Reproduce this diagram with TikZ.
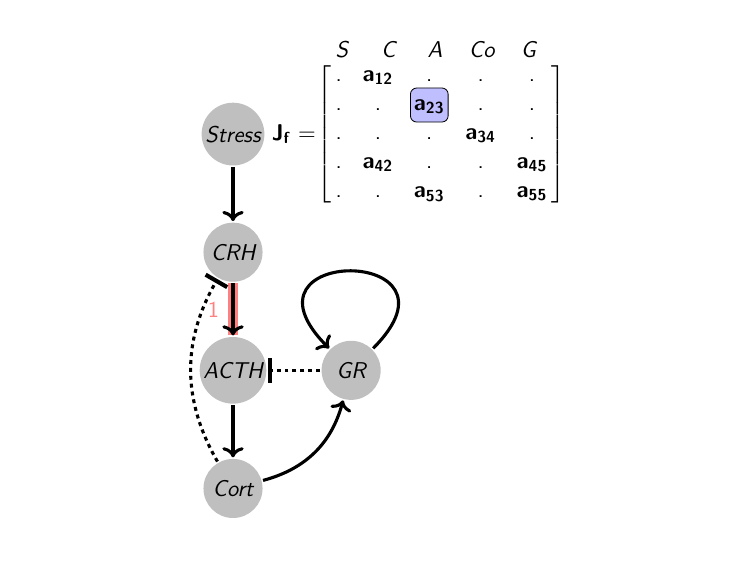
\documentclass[tikz,border=0pt]{standalone}
\usepackage{fontspec}
\usetikzlibrary{positioning,matrix,fit,backgrounds,arrows.meta}
\newcommand{\ent}[1]{\textbf{a}\textsubscript{\textbf{#1}}}
\begin{document}
\begin{tikzpicture}[->,auto,node distance=2cm,on grid,line width=1.5pt,
  font=\sffamily\fontsize{11}{13}\selectfont,
  species/.style={circle,fill=gray!50,minimum size=1cm,inner sep=1pt,font=\sffamily\itshape\fontsize{11}{13}\selectfont},
  inhib/.style={-{Bar[width=12pt,line width=2pt]},dash pattern=on 1.9pt off 1.9pt},
  hdr/.style={font=\sffamily\itshape\fontsize{11}{13}\selectfont},
  hl/.style={draw,thin,fill=blue!25,rounded corners=3pt,inner xsep=1pt,inner ysep=3pt}]
  \useasboundingbox (0,0) rectangle (12.8,-9.6);
  \node[species] (stress) at (3.945,-2.27) {Stress};
  \node[species] (crh) [below=of stress] {CRH};
  \node[species] (acth) [below=of crh] {ACTH};
  \node[species] (gr) [right=of acth] {GR};
  \node[species] (cort) [below=of acth] {Cort};

  % Jacobian
  \node (jf) [right=1.03cm of stress] {\textbf{J}\textsubscript{\textbf{f}} $=$};
  \matrix (jac) [right=2.5cm of jf, matrix of nodes, inner sep=0pt, column sep=9pt, row sep=4pt,
    left delimiter={[}, right delimiter={]}, thin,
    nodes={inner sep=0.5pt, text height=7pt, text depth=2pt}] {
    . & \ent{12} & . & . & . \\
    . & . & \ent{23} & . & . \\
    . & . & . & \ent{34} & . \\
    . & \ent{42} & . & . & \ent{45} \\
    . & . & \ent{53} & . & \ent{55} \\
  };
  \foreach \lab [count=\i] in {S,C,A,Co,G}
    \node[hdr] (hdr-\i) at ([xshift={0.05cm+(\i-1)*0.79cm},yshift=0.44cm]jac-1-1) {\lab};
  \begin{scope}[on background layer]
    \node[hl, fit=(jac-2-3)] (sel) {};
  \end{scope}

  \draw[-,color=red!50,line width=4.8pt] (crh) -- node[left=1pt] {1} (acth);
  \path
    (stress) edge (crh)
    (crh) edge (acth)
    (acth) edge (cort)
    (cort) edge[bend right=30] (gr)
    (gr) edge[out=45,in=135,looseness=8.5] (gr)
    (gr) edge[inhib] (acth)
    (cort) edge[inhib,bend left=30] (crh);
\end{tikzpicture}
\end{document}
